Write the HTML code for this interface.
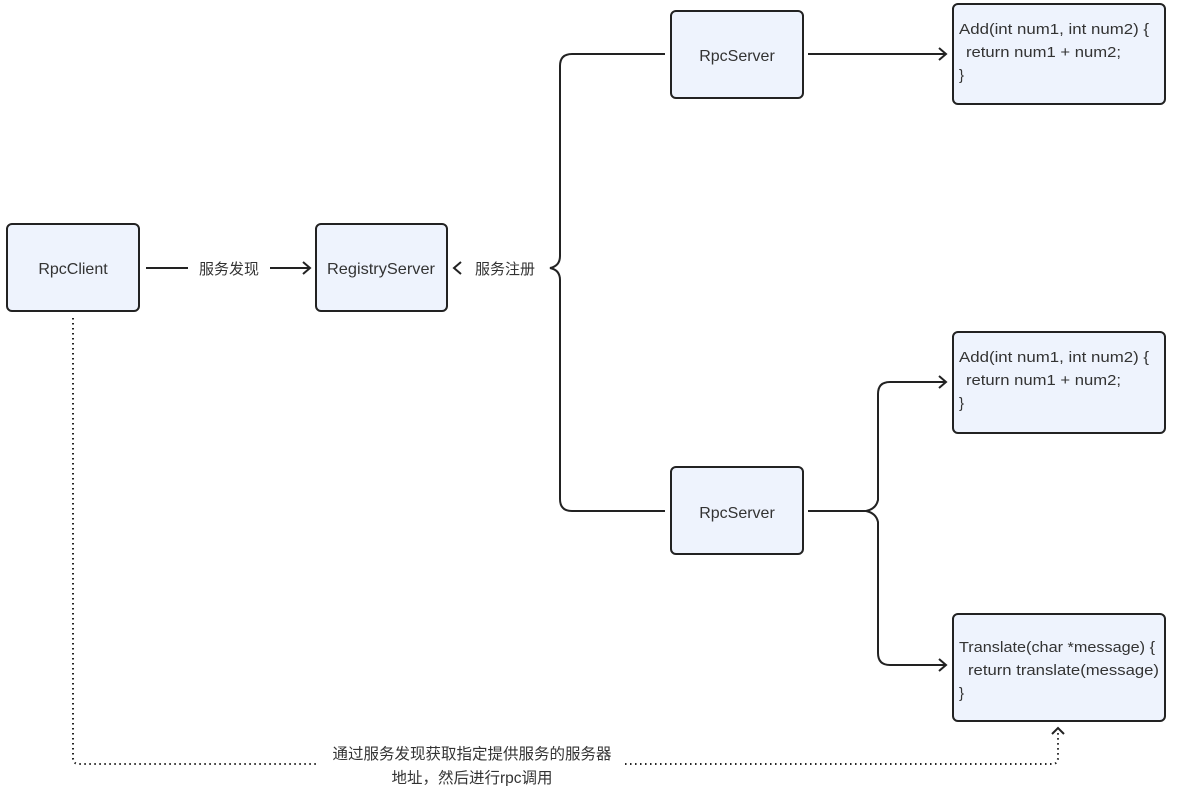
<!DOCTYPE html>
<html><head><meta charset="utf-8"><style>
html,body{margin:0;padding:0;background:#fff;}
svg{display:block;}
text{font-family:"Liberation Sans","Noto Sans CJK SC",sans-serif;fill:#333;}
</style></head><body>
<svg width="1184" height="786" viewBox="0 0 1184 786" xmlns="http://www.w3.org/2000/svg" font-size="14">
<g fill="#eef3fd" stroke="#222" stroke-width="2">
<rect x="7" y="224" width="132" height="87" rx="5"/>
<rect x="316" y="224" width="131" height="87" rx="5"/>
<rect x="671" y="11" width="132" height="87" rx="5"/>
<rect x="671" y="467" width="132" height="87" rx="5"/>
<rect x="953" y="4" width="212" height="100" rx="5"/>
<rect x="953" y="332" width="212" height="101" rx="5"/>
<rect x="953" y="614" width="212" height="107" rx="5"/>
</g>
<g fill="none" stroke="#222" stroke-width="2">
<line x1="146" y1="268" x2="188" y2="268"/>
<line x1="270" y1="268" x2="310" y2="268"/>
<polyline points="303,262 310,268 303,274"/>
<polyline points="461,262 454,268 461,274"/>
<path d="M665,54 H572 Q560,54 560,66 V256 Q560,266 550,268 Q560,270 560,280 V499 Q560,511 572,511 H665"/>
<line x1="808" y1="54" x2="946" y2="54"/>
<polyline points="939,48 946,54 939,60"/>
<path d="M808,511 H866 Q876,509 878,500 V394 Q878,382 890,382 H946"/>
<path d="M866,511 Q876,513 878,522 V653 Q878,665 890,665 H946"/>
<polyline points="939,376 946,382 939,388"/>
<polyline points="939,659 946,665 939,671"/>
</g>
<g fill="none" stroke="#222" stroke-width="2" stroke-dasharray="1.5,3.5">
<path d="M73,318 V758 Q73,764 79,764 H318"/>
<path d="M625,764 H1052 Q1058,764 1058,758 V732"/>
</g>
<polyline points="1052,734 1058,728 1064,734" fill="none" stroke="#222" stroke-width="2"/>
<text x="73" y="274" text-anchor="middle" font-size="16">RpcClient</text>
<text x="381" y="274" text-anchor="middle" font-size="16" textLength="108" lengthAdjust="spacingAndGlyphs">RegistryServer</text>
<text x="737" y="61" text-anchor="middle" font-size="16">RpcServer</text>
<text x="737" y="518" text-anchor="middle" font-size="16">RpcServer</text>
<text x="229" y="274" text-anchor="middle" font-size="15">服务发现</text>
<text x="505" y="274" text-anchor="middle" font-size="15">服务注册</text>
<text x="959" y="34" font-size="15" textLength="190" lengthAdjust="spacingAndGlyphs">Add(int num1, int num2) {</text>
<text x="966" y="57" font-size="15" textLength="155" lengthAdjust="spacingAndGlyphs">return num1 + num2;</text>
<text x="959" y="80" font-size="15">}</text>
<text x="959" y="362" font-size="15" textLength="190" lengthAdjust="spacingAndGlyphs">Add(int num1, int num2) {</text>
<text x="966" y="385" font-size="15" textLength="155" lengthAdjust="spacingAndGlyphs">return num1 + num2;</text>
<text x="959" y="408" font-size="15">}</text>
<text x="959" y="652" font-size="15" textLength="196" lengthAdjust="spacingAndGlyphs">Translate(char *message) {</text>
<text x="968" y="675" font-size="15" textLength="191" lengthAdjust="spacingAndGlyphs">return translate(message)</text>
<text x="959" y="698" font-size="15">}</text>
<text x="472" y="759" text-anchor="middle" font-size="15.5">通过服务发现获取指定提供服务的服务器</text>
<text x="472" y="783" text-anchor="middle" font-size="15.5">地址，然后进行rpc调用</text>
</svg>
</body></html>
